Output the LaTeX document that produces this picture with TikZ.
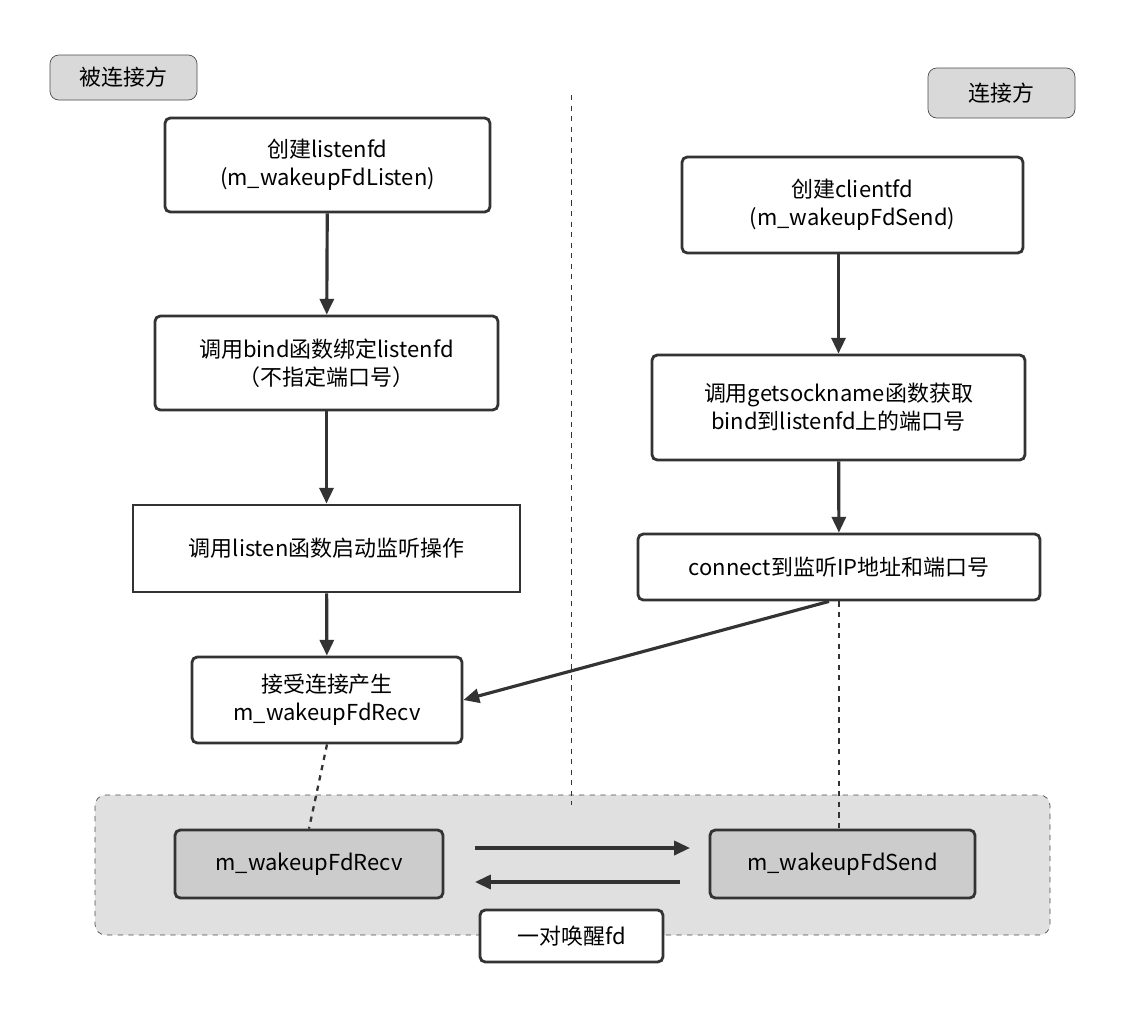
\documentclass[tikz,border=0pt]{standalone}
\usepackage{fontspec}
\setmainfont{Noto Sans CJK SC}
\usetikzlibrary{arrows.meta, positioning}

\begin{document}
\begin{tikzpicture}[x=0.02cm, y=-0.02cm, >={Triangle[length=9pt,width=8pt]},
	font=\fontsize{12.5}{16}\selectfont,
	stage/.style={draw=black!80, line width=1.6pt, rounded corners=3pt, align=center, inner sep=0pt},
	side/.style={draw=black!70, fill=black!15, rounded corners=5pt, inner sep=0pt},
	flow/.style={->, line width=1.8pt, draw=black!80},
	link/.style={dashed, line width=1.3pt, draw=black!80}]

	\useasboundingbox (0,0) rectangle (1126,1012);

	% Group of the wakeup pair
	\draw[dashed, draw=black!70, fill=black!12, rounded corners=6pt] (95,795) rectangle (1050,935);

	% Divider between the two sides
	\draw[dashed, draw=black!80] (571,95) -- (571,805);

	% Side labels
	\node[side, minimum width=147*0.02cm, minimum height=45*0.02cm] (passive) at (123.5,77.5) {被连接方};
	\node[side, minimum width=147*0.02cm, minimum height=50*0.02cm] (active) at (1001.5,93) {连接方};

	% Listening side
	\node[stage, minimum width=325*0.02cm, minimum height=94*0.02cm] (listen) at (327.5,165) {创建listenfd\\(m\_wakeupFdListen)};
	\node[stage, minimum width=343*0.02cm, minimum height=94*0.02cm] (bind) at (326.5,363) {调用bind函数绑定listenfd\\（不指定端口号）};
	\node[stage, rounded corners=0pt, minimum width=387*0.02cm, minimum height=87*0.02cm] (start) at (326.5,548.5) {调用listen函数启动监听操作};
	\node[stage, minimum width=270*0.02cm, minimum height=86*0.02cm] (accept) at (327,700) {接受连接产生\\m\_wakeupFdRecv};

	% Connecting side
	\node[stage, minimum width=341*0.02cm, minimum height=96*0.02cm] (client) at (852.5,205) {创建clientfd\\(m\_wakeupFdSend)};
	\node[stage, minimum width=373*0.02cm, minimum height=105*0.02cm] (getname) at (838.5,407.5) {调用getsockname函数获取\\bind到listenfd上的端口号};
	\node[stage, minimum width=402*0.02cm, minimum height=66*0.02cm] (connect) at (839,567) {connect到监听IP地址和端口号};

	% Wakeup pair
	\node[stage, fill=black!20, minimum width=268*0.02cm, minimum height=68*0.02cm] (recv) at (309,864) {m\_wakeupFdRecv};
	\node[stage, fill=black!20, minimum width=265*0.02cm, minimum height=68*0.02cm] (send) at (842.5,864) {m\_wakeupFdSend};
	\node[stage, fill=white, minimum width=183*0.02cm, minimum height=52*0.02cm] (pair) at (571.5,936) {一对唤醒fd};

	\coordinate (r1) at (475,848);
	\coordinate (s1) at (690,848);
	\coordinate (s2) at (680,882);
	\coordinate (r2) at (475,882);

	% Arrows
	\draw[flow] (listen) -- (bind);
	\draw[flow] (bind) -- (start);
	\draw[flow] (start) -- (accept);
	\draw[flow] (client.south -| getname.north) -- (getname);
	\draw[flow] (getname) -- (connect);
	\draw[flow] ([xshift=-10*0.02cm]connect.south) -- (accept.east);
	\draw[flow] (r1) -- (s1);
	\draw[flow] (s2) -- (r2);

	% Links to the pair
	\draw[link] (accept.south) -- (recv.north);
	\draw[link] (connect.south) -- (connect.south |- send.north);
\end{tikzpicture}
\end{document}
